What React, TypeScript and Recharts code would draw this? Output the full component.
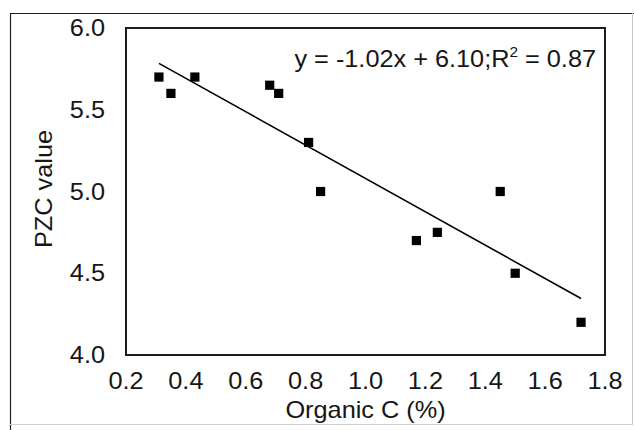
import React from 'react';
import { ScatterChart, Scatter, XAxis, YAxis, ReferenceArea, Customized } from 'recharts';

const organicC = [0.31, 0.35, 0.43, 0.68, 0.71, 0.81, 0.85, 1.17, 1.24, 1.45, 1.5, 1.72];
const pzcValue = [5.7, 5.6, 5.7, 5.65, 5.6, 5.3, 5.0, 4.7, 4.75, 5.0, 4.5, 4.2];
const xTicks = [0.2, 0.4, 0.6, 0.8, 1.0, 1.2, 1.4, 1.6, 1.8];
const yTicks = [4.0, 4.5, 5.0, 5.5, 6.0];
const slope = -1.02;
const intercept = 6.1;
const rSquared = 0.87;

const points = organicC.map((x, i) => ({ x, y: pzcValue[i] }));
const xMin = Math.min(...organicC);
const xMax = Math.max(...organicC);
const trend = [
  { x: xMin, y: slope * xMin + intercept },
  { x: xMax, y: slope * xMax + intercept },
];

const FONT = '"Liberation Sans", Arial, Helvetica, sans-serif';
const TEXT = '#161616';
const FS = 23;
const SX = 1.1;

const StretchText = ({ x, y, anchor = 'middle', rotate = 0, children }: any) => (
  <g transform={`translate(${x} ${y}) rotate(${rotate}) scale(${SX} 1)`}>
    <text x={0} y={0} textAnchor={anchor} fontFamily={FONT} fontSize={FS} fill={TEXT}>
      {children}
    </text>
  </g>
);

const XTick = (props: any) => {
  const { x, y, payload } = props;
  return <StretchText x={x} y={y + 16.5}>{Number(payload.value).toFixed(1)}</StretchText>;
};
const YTick = (props: any) => {
  const { x, y, payload } = props;
  return <StretchText x={x} y={y + 8} anchor="end">{Number(payload.value).toFixed(1)}</StretchText>;
};

const SquareShape = (props: any) => {
  const { cx, cy } = props;
  return <rect x={cx - 4.6} y={cy - 4.6} width={9.2} height={9.2} fill="#000" />;
};
const NoShape = () => null;

const Decor = () => (
  <g>
    <line x1={10} y1={13.5} x2={634} y2={13.5} stroke="#222" strokeWidth={1.2} />
    <line x1={10.5} y1={13} x2={10.5} y2={430} stroke="#222" strokeWidth={1.2} />
    <line x1={632.5} y1={13} x2={632.5} y2={424} stroke="#c8c8c8" strokeWidth={1} />
    <line x1={10} y1={424.5} x2={633} y2={424.5} stroke="#d0d0d0" strokeWidth={1} />
    <StretchText x={596} y={67} anchor="end">
      {`y = ${slope.toFixed(2)}x + ${intercept.toFixed(2)};R`}
      <tspan fontSize={14} dy={-10}>2</tspan>
      <tspan dy={10}>{` = ${rSquared.toFixed(2)}`}</tspan>
    </StretchText>
    <StretchText x={365.5} y={418}>Organic C (%)</StretchText>
    <StretchText x={52} y={189} rotate={-90}>PZC value</StretchText>
  </g>
);

export default function App() {
  return (
    <div style={{ position: 'absolute', left: 0, top: 0, width: 634, height: 430, background: '#fff' }}>
      <ScatterChart width={634} height={430} margin={{ top: 28, right: 29, bottom: 20, left: 26 }}>
        <XAxis
          type="number"
          dataKey="x"
          domain={[0.2, 1.8]}
          ticks={xTicks}
          height={55}
          axisLine={false}
          tickLine={false}
          tickSize={0}
          tickMargin={17}
          tick={XTick}
          allowDataOverflow
        />
        <YAxis
          type="number"
          dataKey="y"
          domain={[4, 6]}
          ticks={yTicks}
          width={100}
          axisLine={false}
          tickLine={false}
          tickSize={0}
          tickMargin={21}
          tick={YTick}
          allowDataOverflow
        />
        <ReferenceArea x1={0.2} x2={1.8} y1={4} y2={6} fill="none" stroke="#1c1c1c" strokeWidth={2} ifOverflow="visible" />
        <Scatter data={trend} line={{ stroke: '#000', strokeWidth: 1.6 }} shape={NoShape} isAnimationActive={false} />
        <Scatter data={points} shape={SquareShape} isAnimationActive={false} />
        <Customized component={Decor} />
      </ScatterChart>
    </div>
  );
}
